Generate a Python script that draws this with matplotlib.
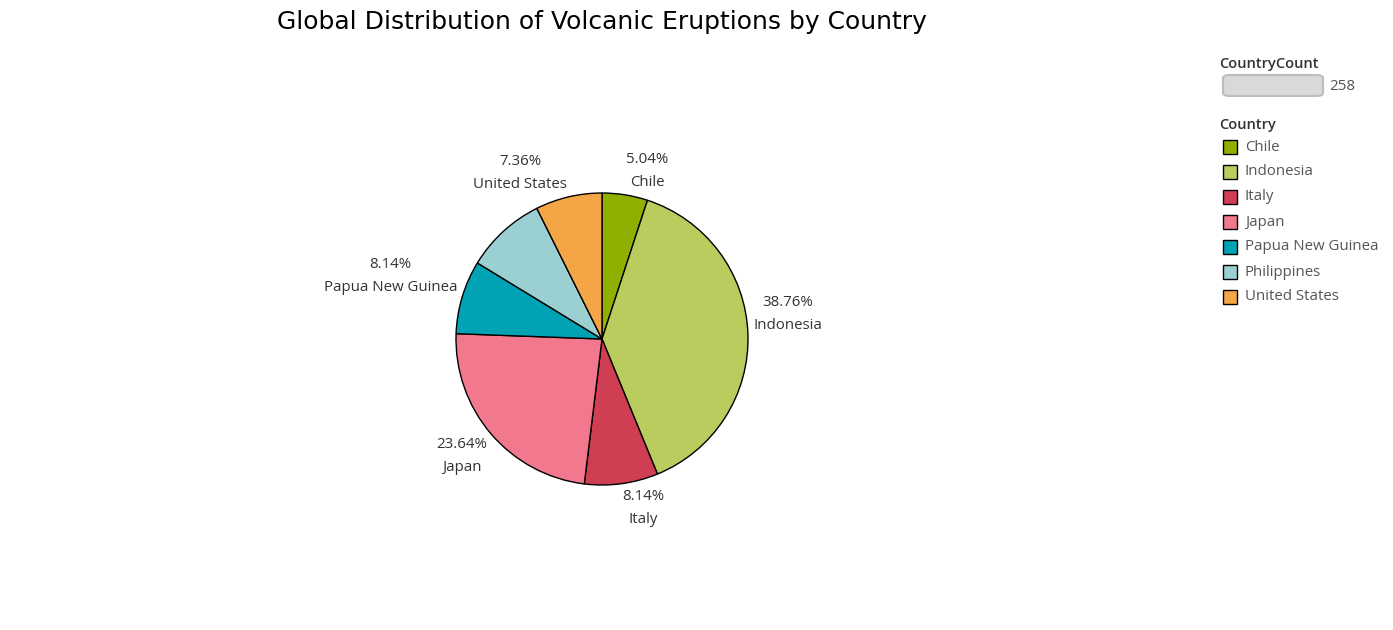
import matplotlib
matplotlib.use("Agg")
import matplotlib.pyplot as plt
from matplotlib.patches import Rectangle, FancyBboxPatch

W, H = 1393, 630

countries = ["Chile", "Indonesia", "Italy", "Japan", "Papua New Guinea", "Philippines", "United States"]
counts = [13, 100, 21, 61, 21, 23, 19]
colors = ["#8fb000", "#bacc5e", "#cf3e53", "#f1788d", "#00a2b3", "#9ad0d2", "#f4a646"]
shown_labels = ["Chile", "Indonesia", "Italy", "Japan", "Papua New Guinea", "United States"]

title = "Global Distribution of Volcanic Eruptions by Country"
total = sum(counts)

plt.rcParams["font.family"] = ["Open Sans", "DejaVu Sans"]


def fx(x):
    return x / W


def fy(y):
    return 1 - y / H


fig = plt.figure(figsize=(W / 100, H / 100), dpi=100)

# pie area: centre ~(602, 339), radius ~146 px
cx, cy, r = 602, 339, 146
ax = fig.add_axes([fx(cx - r), fy(cy + r), 2 * r / W, 2 * r / H])

labels = []
for name, n in zip(countries, counts):
    if name in shown_labels:
        labels.append(f"{n / total * 100:.2f}%\n{name}")
    else:
        labels.append("")

wedges, texts = ax.pie(
    counts,
    colors=colors,
    labels=labels,
    startangle=90,
    counterclock=False,
    labeldistance=1.035,
    wedgeprops=dict(edgecolor="black", linewidth=1.0),
    textprops=dict(fontsize=10.8, color="#333333", linespacing=1.75),
)
# put the nearest corner of each label next to its wedge
for t in texts:
    x, y = t.get_position()
    t.set_multialignment("center")
    t.set_verticalalignment("bottom" if y > 0 else "top")
ax.set_xlim(-1, 1)
ax.set_ylim(-1, 1)
ax.set_aspect("equal")
ax.axis("off")

fig.text(fx(602), fy(22), title, ha="center", va="center", fontsize=18,
         family="DejaVu Sans", color="black")

# legend: count
fig.text(fx(1219), fy(64), "CountryCount", ha="left", va="center", fontsize=10.5,
         color="#333333", weight="semibold")
bar = FancyBboxPatch((fx(1223), fy(96)), fx(100), 21 / H,
                     boxstyle="round,pad=0,rounding_size=0.005",
                     transform=fig.transFigure, facecolor="#d9d9d9",
                     edgecolor="#bdbdbd", linewidth=1.5)
fig.patches.append(bar)
fig.text(fx(1329), fy(86), str(total), ha="left", va="center", fontsize=11, color="#555555")

# legend: country colours
fig.text(fx(1219), fy(125), "Country", ha="left", va="center", fontsize=10.5,
         color="#333333", weight="semibold")
for i, (name, c) in enumerate(zip(countries, colors)):
    y = 147 + i * 25
    sq = Rectangle((fx(1223), fy(y + 7)), 14 / W, 14 / H, transform=fig.transFigure,
                   facecolor=c, edgecolor="black", linewidth=1.0)
    fig.patches.append(sq)
    fig.text(fx(1245), fy(y), name, ha="left", va="center", fontsize=10.8, color="#555555")

fig.savefig("out.png", dpi=100)
